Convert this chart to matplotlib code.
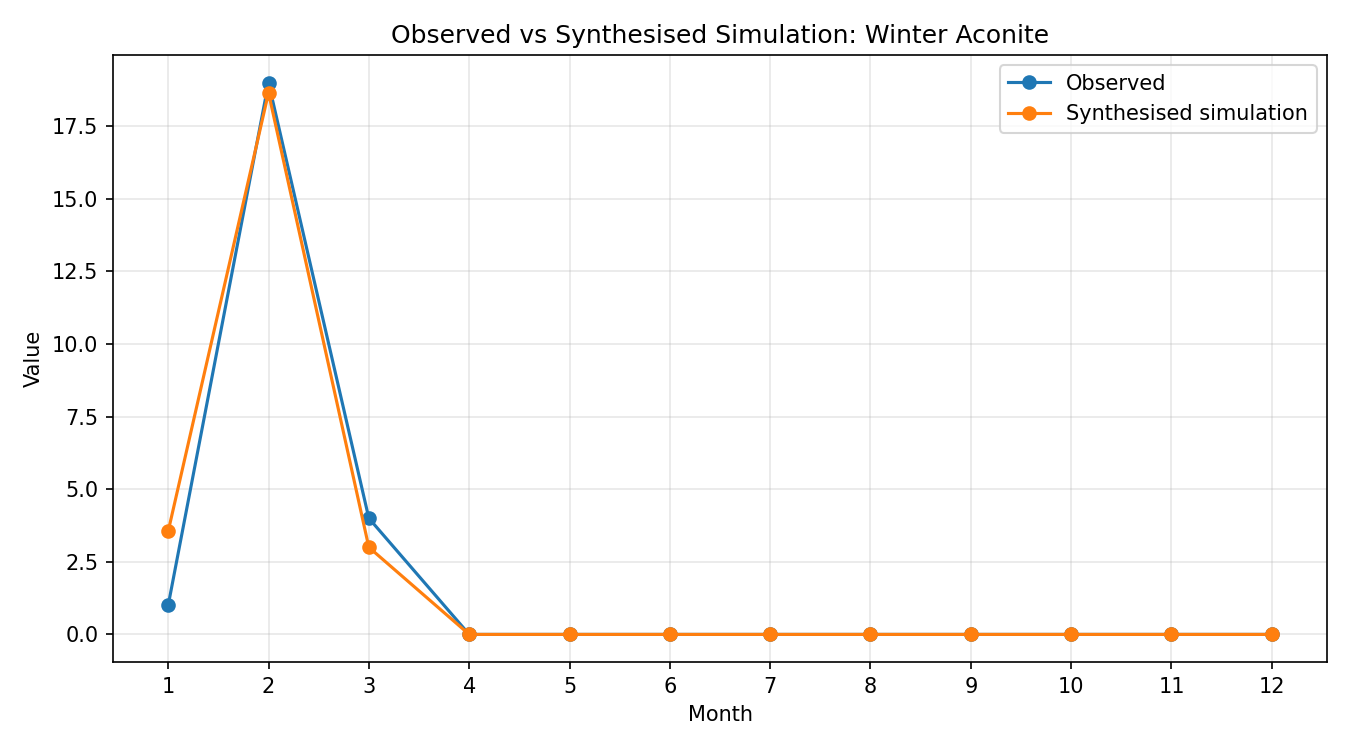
import matplotlib
matplotlib.use("Agg")
import matplotlib.pyplot as plt

months = [1, 2, 3, 4, 5, 6, 7, 8, 9, 10, 11, 12]
observed = [1, 19, 4, 0, 0, 0, 0, 0, 0, 0, 0, 0]
synthesised = [3.55, 18.65, 3.0, 0, 0, 0, 0, 0, 0, 0, 0, 0]

fig, ax = plt.subplots(figsize=(9, 5), dpi=150)
ax.plot(months, observed, marker="o", label="Observed")
ax.plot(months, synthesised, marker="o", label="Synthesised simulation")
ax.set_xticks(months)
ax.set_xlabel("Month")
ax.set_ylabel("Value")
ax.set_title("Observed vs Synthesised Simulation: Winter Aconite")
ax.grid(True, alpha=0.3)
ax.legend()
fig.subplots_adjust(left=113 / 1350, right=1327 / 1350, top=1 - 55 / 750, bottom=1 - 662 / 750)
fig.savefig("out.png")
